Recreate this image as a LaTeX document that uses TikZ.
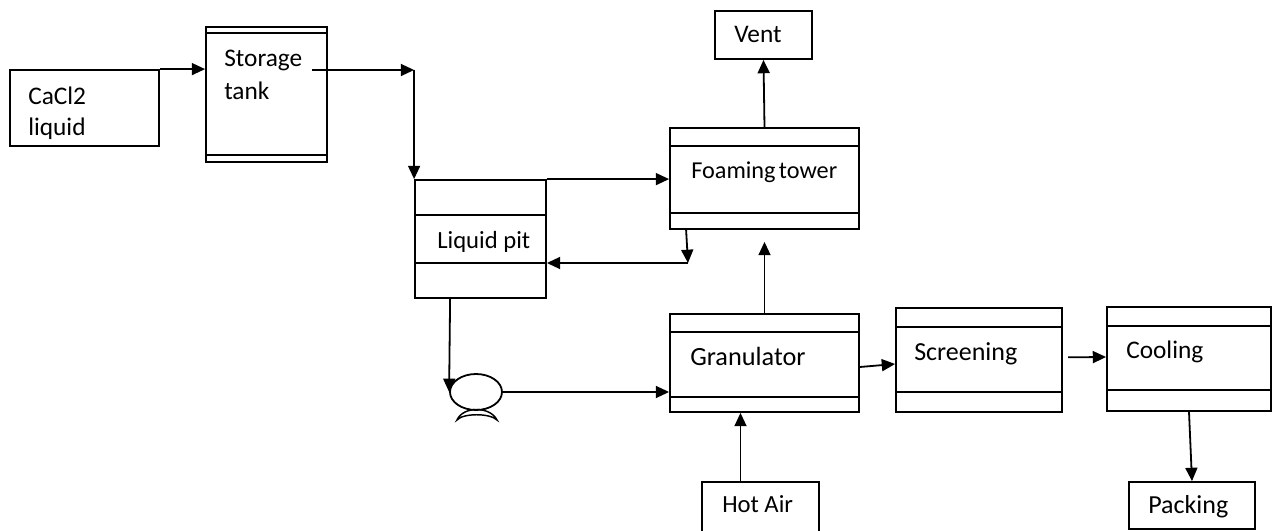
\documentclass[tikz,border=0pt]{standalone}
\usepackage{fontspec}
\setmainfont{Carlito}
\usetikzlibrary{arrows.meta,calc,shapes.geometric}
\tikzset{
  box/.style={draw=black, line width=1.35pt, inner sep=0pt},
  arr/.style={draw=black, line width=1.35pt, -{Triangle[length=10pt,width=9pt]}},
  lbl/.style={anchor=base west, inner sep=0pt, align=left, text=black,
              font=\fontsize{19}{24}\selectfont},
  sep/.style={draw=black, line width=1.35pt}
}
\newcommand\pxbox[5]{%
  \node[box, minimum width={(#4-#2)*0.75pt}, minimum height={(#5-#3)*0.75pt}]
    (#1) at ({(#2+#4)/2},{(#3+#5)/2}) {};}
\newcommand\hsep[2]{\draw[sep] (#1.west |- 0,#2) -- (#1.east |- 0,#2);}
\begin{document}
\begin{tikzpicture}[x=0.75pt,y=-0.75pt]
\clip (0,0) rectangle (1278,531);
\fill[white] (0,0) rectangle (1278,531);
% boxes
\pxbox{cacl}{10}{70}{159}{146}
\pxbox{stor}{206}{27}{327}{162}
\hsep{stor}{33}\hsep{stor}{155}
\pxbox{pit}{415}{180}{546}{298}
\hsep{pit}{215}\hsep{pit}{263}
\pxbox{foam}{670}{128}{859}{229}
\hsep{foam}{146}\hsep{foam}{213}
\pxbox{vent}{715}{11}{812}{59}
\pxbox{gran}{670}{314}{859}{412}
\hsep{gran}{332}\hsep{gran}{397}
\pxbox{scr}{896}{308}{1062}{412}
\hsep{scr}{327}\hsep{scr}{392}
\pxbox{cool}{1107}{307}{1271}{411}
\hsep{cool}{326}\hsep{cool}{390}
\pxbox{hot}{702}{482}{819}{545}
\pxbox{pack}{1129}{482}{1255}{529}
% pump
\node[ellipse, draw=black, line width=1.35pt, inner sep=0pt,
      minimum width=39pt, minimum height=27pt] (pump) at (476,392) {};
\draw[line width=1.1pt] (457,420) .. controls (463,406) and (490,406) .. (497,420)
      .. controls (490,413) and (463,413) .. cycle;
% labels
\node[lbl, font=\fontsize{19}{23.25}\selectfont] (tcacl) at (28,136) {CaCl2\\liquid};
\node[lbl, font=\fontsize{19}{24.75}\selectfont] (tstor) at (224,100) {Storage\\tank};
\node[lbl, font=\fontsize{18.5}{24}\selectfont] (tpit) at (437,248) {Liquid pit};
\node[lbl, font=\fontsize{18.2}{24}\selectfont] (tfoam) at (691,179) {Foaming\hspace{2.5pt}tower};
\node[lbl] (tvent) at (734,43) {Vent};
\node[lbl, font=\fontsize{19.7}{24}\selectfont] (tgran) at (690,365) {Granulator};
\node[lbl, font=\fontsize{19.5}{24}\selectfont] (tscr) at (914,360) {Screening};
\node[lbl] (tcool) at (1126,358) {Cooling};
\node[lbl, font=\fontsize{18.5}{24}\selectfont] (thot) at (722,512) {Hot Air};
\node[lbl, font=\fontsize{19.5}{24}\selectfont] (tpack) at (1148,513) {Packing};
% connectors
\draw[arr] (cacl.north east) -- (cacl.north east -| stor.west);
\coordinate (stout) at (312,70);
\coordinate (bend) at (pit.north west |- stout);
\draw[arr] (stout) -- (bend);
\draw[arr] (bend) -- (pit.north west);
\draw[arr] (pit.north east) -- (pit.north east -| foam.west);
\draw[arr] (foam.north) -- (vent.south);
\coordinate (fo) at ([xshift=12.75pt]foam.south west);
\coordinate (rt) at (688,263);
\draw[arr] (fo) -- (rt);
\draw[arr] (rt) -- (rt -| pit.east);
\draw[arr] (gran.north) -- ($(foam.south)+(0,12)$);
\draw[arr] ([xshift=27pt]pit.south west) -- (pump.west);
\draw[arr] (pump.east) -- (pump.east -| gran.west);
\draw[arr] ([yshift=-3pt]gran.east) -- ([yshift=-3pt]scr.west);
\draw[arr] ([xshift=4pt,yshift=2pt]scr.east) -- ([yshift=1.5pt]cool.west);
\draw[arr] (cool.south) -- (pack.north);
\coordinate (ha) at ([xshift=-15pt]hot.north);
\draw[arr] (ha) -- (ha |- gran.south);
\end{tikzpicture}
\end{document}
